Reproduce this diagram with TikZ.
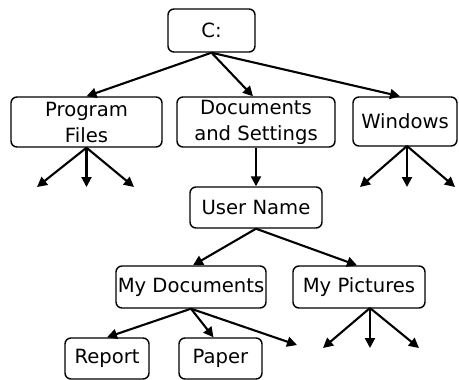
\documentclass[tikz,border=0pt]{standalone}
\usepackage{fontspec}
\setmainfont{DejaVu Sans}
\usetikzlibrary{arrows.meta}
\begin{document}
\begin{tikzpicture}[x=1pt,y=-1pt,
  box/.style={draw,line width=1.4pt,rounded corners=6pt,inner sep=0pt,align=center,
    font=\fontsize{19.6}{26}\selectfont},
  arr/.style={line width=2.1pt,-{Triangle[length=10pt,width=10pt]}}]
\useasboundingbox (0,0) rectangle (459,380);
\node[box,minimum width=87pt,minimum height=43pt] (C) at (211.5,30.5) {C:};
\node[box,minimum width=151pt,minimum height=50pt] (PF) at (86.5,122) {Program\\Files};
\node[box,minimum width=158pt,minimum height=50pt] (DS) at (256,122) {Documents\\and Settings};
\node[box,minimum width=104pt,minimum height=49pt] (W) at (405,121.5) {Windows};
\node[box,minimum width=132pt,minimum height=41pt] (UN) at (256,207.5) {User Name};
\node[box,minimum width=150pt,minimum height=42pt] (MD) at (191,287) {My Documents};
\node[box,minimum width=132pt,minimum height=42pt] (MP) at (359,287) {My Pictures};
\node[box,minimum width=84pt,minimum height=41pt] (R) at (107,358.5) {Report};
\node[box,minimum width=83pt,minimum height=41pt] (P) at (220.5,358.5) {Paper};
\coordinate (pf1) at (37,187);
\coordinate (pf2) at (86.5,187);
\coordinate (pf3) at (134,187);
\coordinate (w1) at (360,187);
\coordinate (w2) at (407,187);
\coordinate (w3) at (455,187);
\coordinate (md3) at (297,345);
\coordinate (mp0) at (370,308);
\coordinate (mp1) at (323,348);
\coordinate (mp2) at (370,348);
\coordinate (mp3) at (419,348);
\coordinate (ws) at (407,146);
\draw[arr] (C.south) -- (PF.north);
\draw[arr] (C.south) -- ([xshift=-3pt]DS.north);
\draw[arr] (C.south) -- ([xshift=-5pt]W.north);
\draw[arr] (PF.south) -- (pf1);
\draw[arr] (PF.south) -- (pf2);
\draw[arr] (PF.south) -- (pf3);
\draw[arr] (DS.south) -- (UN.north);
\draw[arr] (ws) -- (w1);
\draw[arr] (ws) -- (w2);
\draw[arr] (ws) -- (w3);
\draw[arr] (UN.south) -- ([xshift=2pt]MD.north);
\draw[arr] (UN.south) -- ([xshift=-2pt]MP.north);
\draw[arr] (MD.south) -- (R.north);
\draw[arr] (MD.south) -- ([xshift=-7pt]P.north);
\draw[arr] (MD.south) -- (md3);
\draw[arr] (mp0) -- (mp1);
\draw[arr] (mp0) -- (mp2);
\draw[arr] (mp0) -- (mp3);
\end{tikzpicture}
\end{document}
